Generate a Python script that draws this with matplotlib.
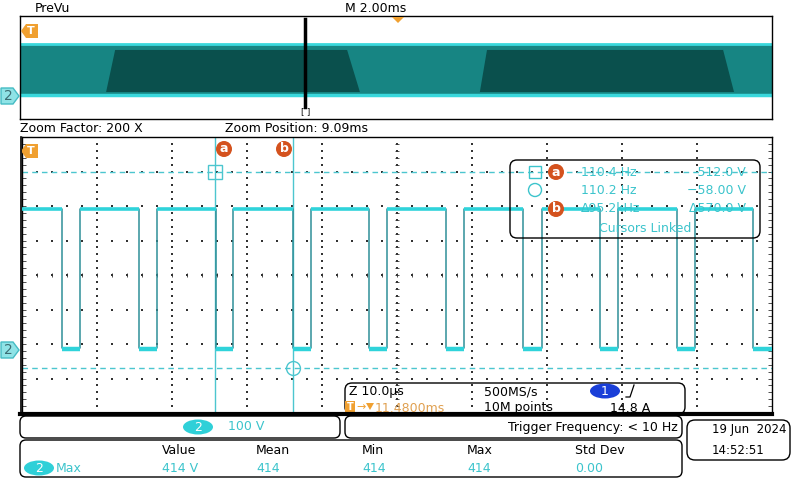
import numpy as np
import matplotlib.pyplot as plt
from matplotlib.patches import FancyBboxPatch, Polygon, Circle, Ellipse, Rectangle

# zoomed channel 2 waveform (time in us, level in V)
fall_us = [5.37, 15.64, 25.87, 36.17, 46.31, 56.53, 66.84, 77.07, 87.29, 97.51]
rise_us = [7.73, 17.96, 28.17, 38.49, 48.71, 58.93, 69.29, 79.51, 89.73]
high_v = 405
low_v = 2

# PreVu overview of the record (time in ms, level in V)
dark_regions_ms = [(2.29, 2.53, 8.70, 9.04), (12.23, 12.42, 18.70, 18.99)]
band_v = (0, 410)
zoom_bar_ms = 7.58

# cursors
cursor_t = [25.7, 36.1]
cursor_v = [512.0, -58.0]

readout_freq = ['110.4 Hz', '110.2 Hz', '\u039495.2kHz']
readout_volt = ['-512.0 V', '\u221258.00 V', '\u0394570.0 V']

meas_heads = ['Value', 'Mean', 'Min', 'Max', 'Std Dev']
meas_vals = ['414 V', '414', '414', '414', '0.00']

CYAN = '#2fd3da'
EDGE = '#2f8f98'
TXT_C = '#3cc4cc'
ORANGE = '#f0a030'
RED = '#d4521e'
DOT = '#333333'

plt.rcParams['font.family'] = ['DejaVu Sans']
fig = plt.figure(figsize=(8, 4.8), dpi=100)


def px_axes(x0, y0, x1, y1):
    return fig.add_axes([x0 / 800, (480 - y1) / 480, (x1 - x0) / 800, (y1 - y0) / 480])


# ---- PreVu strip ----
pv = px_axes(20, 16, 772, 119)
pv.set_xlim(0, 20)
pv.set_ylim(-193, 635)
pv.fill_between([0, 20], band_v[0], band_v[1], color='#178583', lw=0)
for b0, t0, t1, b1 in dark_regions_ms:
    pv.add_patch(Polygon([(b0, 24), (t0, 362), (t1, 362), (b1, 24)], color='#0a504d', lw=0))
pv.plot([0, 20], [band_v[1], band_v[1]], color='#3ad8dc', lw=2)
pv.plot([0, 20], [band_v[0], band_v[0]], color='#3ad8dc', lw=2.5)
pv.axvline(zoom_bar_ms, ymin=0.117, ymax=0.971, color='black', lw=2.5)
pv.set_xticks([])
pv.set_yticks([])
for s in pv.spines.values():
    s.set_color('black')
    s.set_linewidth(1)

# ---- zoomed graticule ----
ax = px_axes(22, 137, 772, 413)
ax.set_xlim(0, 100)
ylo, yhi = -187, 613
ax.set_ylim(ylo, yhi)
ax.set_xticks([])
ax.set_yticks([])
for s in ['left', 'top', 'right']:
    ax.spines[s].set_color('black')
    ax.spines[s].set_linewidth(1)
ax.spines['bottom'].set_visible(False)

# graticule dots
xs_major = np.arange(10, 100, 10)
ys_major = np.linspace(ylo, yhi, 9)[1:-1]
ys_minor = np.arange(ylo, yhi, 20)
xs_minor = np.arange(0, 100, 2)
gx = np.repeat(xs_major, len(ys_minor))
gy = np.tile(ys_minor, len(xs_major))
ax.scatter(gx, gy, s=0.8, color=DOT, marker='s', lw=0, zorder=1)
hx = np.tile(xs_minor, len(ys_major))
hy = np.repeat(ys_major, len(xs_minor))
ax.scatter(hx, hy, s=0.8, color=DOT, marker='s', lw=0, zorder=1)
# centre and edge ticks
yc = ys_major[3]
ax.scatter(np.full(len(ys_minor), 50), ys_minor, marker='_', s=8, color=DOT, lw=0.6, zorder=1)
ax.scatter(np.full(len(ys_minor), 0.3), ys_minor, marker='_', s=5, color=DOT, lw=0.6, zorder=1)
ax.scatter(np.full(len(ys_minor), 99.7), ys_minor, marker='_', s=5, color=DOT, lw=0.6, zorder=1)
ax.scatter(xs_minor, np.full(len(xs_minor), yc), marker='|', s=8, color=DOT, lw=0.6, zorder=1)

# trace
t = [0.0]
v = [high_v]
for i, f in enumerate(fall_us):
    t += [f, f]
    v += [high_v, low_v]
    if i < len(rise_us):
        t += [rise_us[i], rise_us[i]]
        v += [low_v, high_v]
t.append(100)
v.append(low_v)
ax.plot(t, v, color=EDGE, lw=1.1, zorder=3)
hi_starts = [0.0] + rise_us
hi_ends = fall_us
ax.hlines([high_v] * len(hi_ends), hi_starts, hi_ends, color=CYAN, lw=2.6, zorder=4)
lo_ends = rise_us + [100]
ax.hlines([low_v - 4] * len(fall_us), fall_us, lo_ends, color=CYAN, lw=3.2, zorder=4)

# cursors
for tc in cursor_t:
    ax.axvline(tc, color='#4cc6cf', lw=1, zorder=2)
for vc in cursor_v:
    ax.axhline(vc, color='#4cc6cf', lw=1, ls=(0, (4, 3)), zorder=2)
ax.plot(cursor_t[0], cursor_v[0], marker='s', ms=10, mfc='none', mec='#4cc6cf', mew=1, zorder=5)
ax.plot(cursor_t[1], cursor_v[1], marker='o', ms=10, mfc='none', mec='#4cc6cf', mew=1, zorder=5)

# ---- overlay for labels and boxes ----
ov = fig.add_axes([0, 0, 1, 1], zorder=10)
ov.set_xlim(0, 800)
ov.set_ylim(480, 0)
ov.axis('off')

FS = 9


def rbox(x0, y0, x1, y1, r=7, lw=1):
    ov.add_patch(FancyBboxPatch((x0 + r, y0 + r), x1 - x0 - 2 * r, y1 - y0 - 2 * r,
                                boxstyle='round,pad=%d' % r, fc='none', ec='black', lw=lw))


def tmark(x, y):
    ov.add_patch(Polygon([(x - 9, y), (x - 4, y - 7), (x + 8, y - 7), (x + 8, y + 7), (x - 4, y + 7)],
                         closed=True, fc=ORANGE, ec='none'))
    ov.text(x + 1, y + 0.5, 'T', color='white', fontsize=8, fontweight='bold', ha='center', va='center')


def chmark(y):
    ov.add_patch(Polygon([(1, y - 8), (13, y - 8), (19, y), (13, y + 8), (1, y + 8)],
                         closed=True, fc='#8fe3e6', ec='#45bcc4', lw=1))
    ov.text(8, y + 0.5, '2', color='#3c6d73', fontsize=10, ha='center', va='center')


def cur_badge(x, y, letter):
    ov.add_patch(Circle((x, y), 8, fc=RED, ec='none'))
    ov.text(x, y, letter, color='white', fontsize=9, fontweight='bold', ha='center', va='center')


def ch_oval(x, y, label, fc='#2fd0d8'):
    ov.add_patch(Ellipse((x, y), 30, 15, fc=fc, ec='none'))
    ov.text(x, y + 0.5, label, color='white', fontsize=9, ha='center', va='center')


ov.text(35, 8, 'PreVu', fontsize=FS, va='center')
ov.text(345, 8, 'M 2.00ms', fontsize=FS, va='center')
ov.add_patch(Polygon([(392, 17), (404, 17), (398, 23)], fc=ORANGE, ec='none'))
ov.text(306, 112, '[ ]', fontsize=6, ha='center', va='center')
tmark(30, 31)
chmark(96)

ov.text(20, 128, 'Zoom Factor: 200 X', fontsize=FS, va='center')
ov.text(225, 128, 'Zoom Position: 9.09ms', fontsize=FS, va='center')
tmark(30, 151)
chmark(350)
cur_badge(224, 149, 'a')
cur_badge(284, 149, 'b')

# cursor readout
rbox(510, 160, 760, 238)
ov.add_patch(Rectangle((529, 166), 12, 12, fc='none', ec=TXT_C, lw=1))
ov.add_patch(Circle((535, 190), 6.5, fc='none', ec=TXT_C, lw=1))
cur_badge(556, 172, 'a')
cur_badge(556, 209, 'b')
rows_y = [172, 190, 209]
for y, fq, vt in zip(rows_y, readout_freq, readout_volt):
    ov.text(581, y, fq, fontsize=FS, color=TXT_C, va='center')
    ov.text(746, y, vt, fontsize=FS, color=TXT_C, va='center', ha='right')
ov.text(645, 228, 'Cursors Linked', fontsize=FS, color=TXT_C, va='center', ha='center')

# thick bottom line of graticule
ov.plot([20, 772], [413.5, 413.5], color='black', lw=3)
ov.plot([21, 21], [137, 413], color='black', lw=1.2)

# horizontal/acquisition box
rbox(345, 383, 685, 414)
ov.text(349, 392, 'Z 10.0\u00b5s', fontsize=FS, va='center')
ov.text(484, 392, '500MS/s', fontsize=FS, va='center')
ch_oval(605, 391, '1', fc='#1a3fd8')
ov.plot([626, 630, 634], [397, 397, 385], color='black', lw=0.9)
ov.add_patch(Rectangle((345, 401), 10, 12, fc=ORANGE, ec='none'))
ov.text(350, 407.5, 'T', color='white', fontsize=7, fontweight='bold', ha='center', va='center')
ov.text(356, 407, '\u2192', color=ORANGE, fontsize=8, va='center')
ov.add_patch(Polygon([(366, 403), (374, 403), (370, 410)], fc=ORANGE, ec='none'))
ov.text(375, 408, '11.4800ms', fontsize=FS, color='#e0a050', va='center')
ov.text(484, 408, '10M points', fontsize=FS, va='center')
ov.text(630, 408, '14.8 A', fontsize=FS, va='center', ha='center')

# channel box
rbox(20, 416, 340, 438, r=6)
ch_oval(198, 427, '2')
ov.text(228, 427, '100 V', fontsize=FS, color=TXT_C, va='center')

# trigger frequency box
rbox(345, 416, 682, 438, r=6)
ov.text(678, 428, 'Trigger Frequency: < 10 Hz', fontsize=FS, va='center', ha='right')

# date box
rbox(687, 420, 790, 460, r=8)
ov.text(712, 430, '19 Jun  2024', fontsize=8.5, va='center')
ov.text(712, 450, '14:52:51', fontsize=8.5, va='center')

# measurement box
rbox(20, 440, 682, 477, r=6)
meas_x = [162, 256, 362, 467, 575]
for x, hd, vl in zip(meas_x, meas_heads, meas_vals):
    ov.text(x, 451, hd, fontsize=FS, va='center')
    ov.text(x, 468, vl, fontsize=FS, color=TXT_C, va='center')
ch_oval(39, 468, '2')
ov.text(56, 468, 'Max', fontsize=FS, color=TXT_C, va='center')

fig.savefig('out.png', dpi=100, facecolor='white')
